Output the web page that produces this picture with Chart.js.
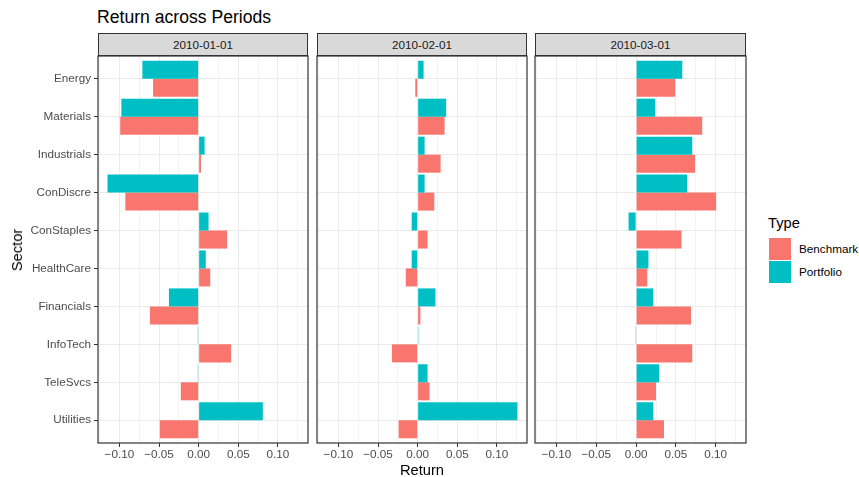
<!DOCTYPE html>
<html>
<head>
<meta charset="utf-8">
<script src="https://cdn.jsdelivr.net/npm/chart.js@4.4.1/dist/chart.umd.min.js"></script>
<style>
  body { margin: 0; width: 859px; height: 477px; overflow: hidden; background: #fff;
         font-family: "Liberation Sans", Arial, sans-serif; position: relative; }
  .abs { position: absolute; }
  .title { left: 97px; top: 7px; font-size: 17.6px; color: #000; white-space: nowrap; }
  .strip { top: 33px; height: 23px; background: #D9D9D9; border: 1px solid #333;
           box-sizing: border-box; font-size: 11.7px; color: #1A1A1A; text-align: center;
           line-height: 21px; }
  .axtitle { font-size: 14.7px; color: #000; white-space: nowrap; }
  .key { width: 22px; height: 22px; left: 769px; }
  .keylab { left: 799px; font-size: 11.7px; color: #000; white-space: nowrap; }
</style>
</head>
<body>
<div class="abs title">Return across Periods</div>

<div id="strips"></div>
<div class="abs" style="left:0;top:50px;width:312px;height:427px"><canvas id="p0"></canvas></div>
<div class="abs" style="left:313px;top:50px;width:218px;height:427px"><canvas id="p1"></canvas></div>
<div class="abs" style="left:531px;top:50px;width:219px;height:427px"><canvas id="p2"></canvas></div>

<div class="abs axtitle" style="left:422px;top:462px;transform:translateX(-50%)">Return</div>
<div class="abs axtitle" style="left:17px;top:250px;transform:translate(-50%,-50%) rotate(-90deg)">Sector</div>

<div class="abs axtitle" style="left:768px;top:215px">Type</div>
<div class="abs key" style="top:238px;background:#F8766D"></div>
<div class="abs key" style="top:261px;background:#00BFC4"></div>
<div class="abs keylab" style="top:242px">Benchmark</div>
<div class="abs keylab" style="top:265px">Portfolio</div>

<script>
const sectors = ['Energy', 'Materials', 'Industrials', 'ConDiscre', 'ConStaples',
                 'HealthCare', 'Financials', 'InfoTech', 'TeleSvcs', 'Utilities'];
const periods = ['2010-01-01', '2010-02-01', '2010-03-01'];

const portfolioJan = [-0.071, -0.0975, 0.0075, -0.115, 0.0125, 0.009, -0.0375, -0.001, -0.001, 0.081];
const benchmarkJan = [-0.0575, -0.099, 0.003, -0.0925, 0.036, 0.0146, -0.0615, 0.041, -0.0225, -0.049];
const portfolioFeb = [0.0075, 0.036, 0.0088, 0.0088, -0.0075, -0.0075, 0.0225, 0.001, 0.0125, 0.126];
const benchmarkFeb = [-0.003, 0.034, 0.029, 0.021, 0.0125, -0.015, 0.0035, -0.0325, 0.015, -0.024];
const portfolioMar = [0.058, 0.024, 0.0705, 0.064, -0.0095, 0.0155, 0.0215, -0.001, 0.029, 0.0215];
const benchmarkMar = [0.049, 0.083, 0.074, 0.1005, 0.057, 0.014, 0.069, 0.0705, 0.025, 0.035];

const xTickValues = [-0.125, -0.1, -0.075, -0.05, -0.025, 0, 0.025, 0.05, 0.075, 0.1, 0.125];
const xTickLabels = ['', '\u22120.10', '', '\u22120.05', '', '0.00', '', '0.05', '', '0.10', ''];

const xMin = -0.127, xMax = 0.138;
const panelLefts = [98, 317, 535];

// strip headers
const strips = document.getElementById('strips');
periods.forEach((p, i) => {
  const d = document.createElement('div');
  d.className = 'abs strip';
  d.style.left = panelLefts[i] + 'px';
  d.style.width = (i === 2 ? 211 : 210) + 'px';
  d.textContent = p;
  strips.appendChild(d);
});

const panelBorder = {
  id: 'panelBorder',
  afterDraw(chart) {
    const a = chart.chartArea, ctx = chart.ctx;
    ctx.save();
    ctx.strokeStyle = '#333333';
    ctx.lineWidth = 1.2;
    ctx.strokeRect(a.left, a.top, a.right - a.left, a.bottom - a.top);
    ctx.restore();
  }
};

function makePanel(id, portfolio, benchmark, showY) {
  const pts = arr => arr.map((v, i) => ({ x: v, y: i }));
  return new Chart(document.getElementById(id), {
    type: 'bar',
    data: {
      datasets: [
        { label: 'Portfolio', data: pts(portfolio), backgroundColor: '#00BFC4' },
        { label: 'Benchmark', data: pts(benchmark), backgroundColor: '#F8766D' }
      ]
    },
    options: {
      indexAxis: 'y',
      responsive: true,
      maintainAspectRatio: false,
      animation: false,
      layout: { padding: { top: 6, right: 4, left: showY ? 0 : 4, bottom: 0 } },
      datasets: { bar: { categoryPercentage: 0.95, barPercentage: 1 } },
      plugins: { legend: { display: false }, tooltip: { enabled: false } },
      scales: {
        x: {
          type: 'linear',
          min: xMin,
          max: xMax,
          afterBuildTicks: s => { s.ticks = xTickValues.map(v => ({ value: v })); },
          afterFit: s => { s.height = 34; s.paddingLeft = 0; s.paddingRight = 0; },
          border: { display: false },
          grid: {
            color: '#EBEBEB',
            lineWidth: c => (xTickLabels[c.index] ? 1 : 0.6),
            tickLength: 4,
            tickWidth: 1,
            tickColor: c => (xTickLabels[c.index] ? '#333333' : 'rgba(0,0,0,0)')
          },
          ticks: {
            autoSkip: false, maxRotation: 0, padding: 1,
            color: '#4D4D4D',
            font: { family: 'Liberation Sans', size: 11.7 },
            callback: (v, i) => xTickLabels[i]
          }
        },
        y: {
          type: 'linear',
          min: -0.6,
          max: sectors.length - 0.4,
          reverse: true,
          offset: false,
          afterBuildTicks: s => { s.ticks = sectors.map((c, i) => ({ value: i })); },
          afterFit: s => { s.width = showY ? 98 : 0; s.paddingTop = 0; s.paddingBottom = 0; },
          border: { display: false },
          grid: {
            offset: false,
            color: '#EBEBEB',
            lineWidth: 1,
            drawTicks: showY,
            tickLength: 4,
            tickWidth: 1,
            tickColor: '#333333'
          },
          ticks: {
            display: showY,
            autoSkip: false,
            padding: 3,
            color: '#4D4D4D',
            font: { family: 'Liberation Sans', size: 11.7 },
            callback: (v, i) => sectors[i]
          }
        }
      }
    },
    plugins: [panelBorder]
  });
}

makePanel('p0', portfolioJan, benchmarkJan, true);
makePanel('p1', portfolioFeb, benchmarkFeb, false);
makePanel('p2', portfolioMar, benchmarkMar, false);
</script>
</body>
</html>
